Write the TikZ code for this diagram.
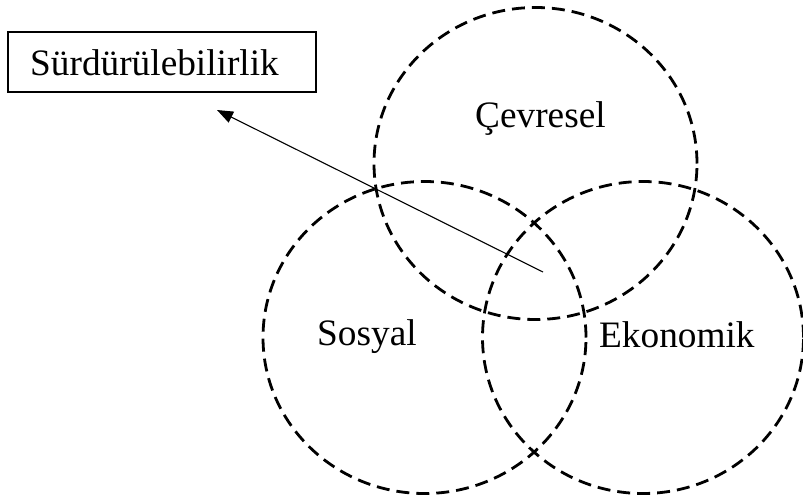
\documentclass[tikz,border=0pt]{standalone}
\usepackage{fontspec}
\setmainfont{Liberation Serif}
\usetikzlibrary{shapes.geometric,arrows.meta}

\tikzset{
  pillar/.style={ellipse, draw, line width=2.8pt, dash pattern=on 13pt off 7pt,
    inner sep=0pt, minimum width=323pt, minimum height=312pt},
  label/.style={font=\fontsize{37.3}{44}\selectfont, inner sep=0pt, anchor=base west},
  titlebox/.style={draw, line width=1.8pt, inner sep=0pt,
    minimum width=308pt, minimum height=60pt},
  pointer/.style={line width=1.1pt, -{Triangle[length=16pt, width=12pt]}}
}

\begin{document}
\begin{tikzpicture}[x=1pt, y=-1pt]
  \useasboundingbox (0,0) rectangle (803,499);

  % the three dimensions of sustainability
  \node (cevre)  [pillar] at (535.5,163.5) {};
  \node (sosyal) [pillar] at (424.5,337.5) {};
  \node (ekon)   [pillar, minimum width=321pt] at (643,337.5) {};

  \node (tcevre)  [label] at (475,127) {Çevresel};
  \node (tsosyal) [label] at (317,345) {Sosyal};
  \node (tekon)   [label] at (599,347) {Ekonomik};

  % title box
  \node (box) [titlebox] at (161.75,62) {};
  \node (tbox) [label] at (30,75) {Sürdürülebilirlik};

  % arrow from the common intersection towards the title
  \coordinate (core) at (543,272);
  \coordinate (tip) at (217,110);
  \draw[pointer] (core) -- (tip);
\end{tikzpicture}
\end{document}
